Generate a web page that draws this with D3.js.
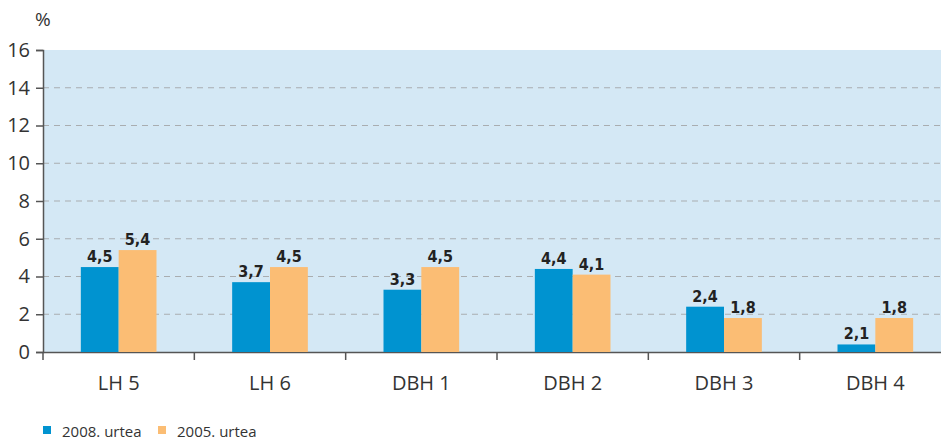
<!DOCTYPE html>
<html>
<head>
<meta charset="utf-8">
<script src="https://cdn.jsdelivr.net/npm/d3@7"></script>
<style>
  body { margin: 0; background: #fff; }
  text { font-family: "Open Sans", "DejaVu Sans", sans-serif; fill: #333; }
  .val { font-family: "DejaVu Sans Condensed", "DejaVu Sans", sans-serif; font-weight: bold; fill: #222; }
</style>
</head>
<body>
<div id="canvas"></div>
<script>
var categories = ["LH 5", "LH 6", "DBH 1", "DBH 2", "DBH 3", "DBH 4"];
var series = ["2008. urtea", "2005. urtea"];
var values2008 = [4.5, 3.7, 3.3, 4.4, 2.4, 0.4];
var values2005 = [5.4, 4.5, 4.5, 4.1, 1.8, 1.8];
var labels2008 = ["4,5", "3,7", "3,3", "4,4", "2,4", "2,1"];
var labels2005 = ["5,4", "4,5", "4,5", "4,1", "1,8", "1,8"];
var yTicks = [0, 2, 4, 6, 8, 10, 12, 14, 16];
var colors = ["#0093d0", "#fbbd74"];

var width = 941, height = 441;
var plotLeft = 43, plotTop = 50, plotBottom = 352, plotRight = 951;

var svg = d3.select("#canvas")
  .append("svg")
  .attr("width", width)
  .attr("height", height);

var y = d3.scaleLinear().domain([0, 16]).range([plotBottom, plotTop]);
var x = d3.scaleBand().domain(categories).range([plotLeft, plotRight]);
var inner = d3.scaleBand().domain(series).range([0, x.bandwidth()]).paddingOuter(1.0).paddingInner(0);

// plot background
svg.append("rect")
  .attr("x", plotLeft).attr("y", plotTop)
  .attr("width", plotRight - plotLeft).attr("height", plotBottom - plotTop)
  .attr("fill", "#d4e8f5");

// grid
svg.selectAll("line.grid")
  .data(yTicks.filter(function(d) { return d > 0 && d < 16; }))
  .enter().append("line")
    .attr("x1", plotLeft).attr("x2", width)
    .attr("y1", function(d) { return y(d); })
    .attr("y2", function(d) { return y(d); })
    .attr("stroke", "#a9adb0")
    .attr("stroke-width", 1)
    .attr("stroke-dasharray", "6,5");

// y axis
var yAxis = svg.append("g")
  .attr("transform", "translate(" + plotLeft + ",0)")
  .call(d3.axisLeft(y).tickValues(yTicks).tickSize(7).tickPadding(6).tickFormat(d3.format("d")));
yAxis.select(".domain").attr("stroke", "#555").attr("stroke-width", 1.5);
yAxis.selectAll(".tick line").attr("stroke", "#555").attr("stroke-width", 1.5);
yAxis.selectAll(".tick text")
  .style("font-family", "'Open Sans', sans-serif")
  .style("font-size", "20px").attr("fill", "#333");

svg.append("text")
  .attr("x", 35).attr("y", 26)
  .style("font-size", "19px")
  .text("%");

// x axis
var xAxis = svg.append("g")
  .attr("transform", "translate(0," + plotBottom + ")")
  .call(d3.axisBottom(x).tickSize(0).tickPadding(24));
xAxis.select(".domain").attr("stroke", "#555").attr("stroke-width", 1.5);
xAxis.selectAll(".tick text")
  .style("font-family", "'Open Sans', sans-serif")
  .style("font-size", "20px").attr("fill", "#333");

svg.selectAll("line.xtick")
  .data(categories.concat(["end"]))
  .enter().append("line")
    .attr("x1", function(d, i) { return plotLeft + i * x.bandwidth(); })
    .attr("x2", function(d, i) { return plotLeft + i * x.bandwidth(); })
    .attr("y1", plotBottom).attr("y2", plotBottom + 8)
    .attr("stroke", "#555").attr("stroke-width", 1.5);

// bars
var data = categories.map(function(c, i) {
  return { cat: c, vals: [
    { s: series[0], v: values2008[i], label: labels2008[i] },
    { s: series[1], v: values2005[i], label: labels2005[i] }
  ] };
});

var groups = svg.selectAll("g.cat")
  .data(data)
  .enter().append("g")
    .attr("transform", function(d) { return "translate(" + x(d.cat) + ",0)"; });

groups.selectAll("rect")
  .data(function(d) { return d.vals; })
  .enter().append("rect")
    .attr("x", function(d) { return inner(d.s); })
    .attr("width", inner.bandwidth())
    .attr("y", function(d) { return y(d.v); })
    .attr("height", function(d) { return plotBottom - y(d.v); })
    .attr("fill", function(d, i) { return colors[i]; });

groups.selectAll("text.val")
  .data(function(d) { return d.vals; })
  .enter().append("text")
    .attr("class", "val")
    .attr("x", function(d) { return inner(d.s) + inner.bandwidth() / 2; })
    .attr("y", function(d) { return y(d.v) - 5; })
    .attr("text-anchor", "middle")
    .style("font-size", "16px")
    .text(function(d) { return d.label; });

// legend
var legend = svg.selectAll("g.legend")
  .data(series)
  .enter().append("g")
    .attr("transform", function(d, i) { return "translate(" + (43 + i * 115) + ",426)"; });
legend.append("rect")
  .attr("width", 8).attr("height", 8)
  .attr("fill", function(d, i) { return colors[i]; });
legend.append("text")
  .attr("x", 19).attr("y", 11)
  .style("font-size", "15px")
  .text(function(d) { return d; });
</script>
</body>
</html>
